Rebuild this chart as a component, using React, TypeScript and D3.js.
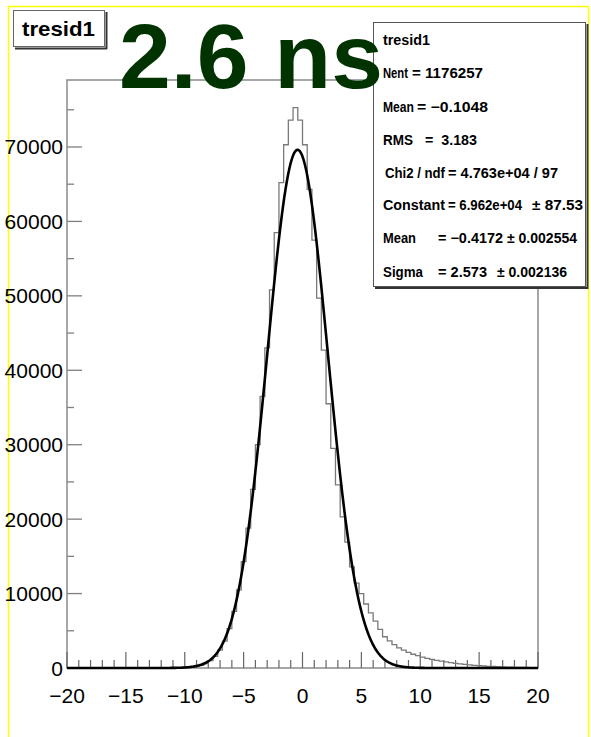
import React from "react";
import * as d3 from "d3";

// ---- data ----
const binLow = -20;
const binHigh = 20;
const binCounts = [
  2, 2, 3, 3, 4, 4, 5, 6, 6, 7,
  8, 9, 10, 11, 12, 13, 14, 15, 16, 18,
  19, 21, 24, 30, 45, 75, 125, 210, 360, 600,
  980, 1550, 2400, 3600, 5300, 7600, 10500, 14300, 18800, 24000,
  30000, 36500, 43000, 50800, 58500, 65200, 70300, 73600, 75300, 73600,
  70300, 64300, 57500, 49700, 42700, 35500, 29500, 24600, 20300, 16900,
  13600, 11400, 10000, 8600, 7400, 6300, 5200, 4200, 3650, 3150,
  2700, 2400, 2100, 1850, 1650, 1450, 1300, 1150, 1020, 920,
  820, 720, 630, 550, 480, 420, 360, 310, 270, 230,
  200, 170, 150, 130, 110, 95, 80, 70, 60, 50,
];
// Gaussian fit parameters (from the stats box)
const fitConstant = 69620;
const fitMean = -0.4172;
const fitSigma = 2.573;

const yTickValues = [0, 10000, 20000, 30000, 40000, 50000, 60000, 70000];
const yMinorValues = [5000, 15000, 25000, 35000, 45000, 55000, 65000, 75000];
const xTickValues = [-20, -15, -10, -5, 0, 5, 10, 15, 20];
const xTickLabels = ["\u221220", "\u221215", "\u221210", "\u22125", "0", "5", "10", "15", "20"];
const yMax = 79000;

const titleText = "tresid1";
const bigText = "2.6 ns";
const statsLabels = ["tresid1", "Nent", "Mean", "RMS", "Chi2 / ndf", "Constant", "Mean", "Sigma"];
const statsValues = ["", "= 1176257", "= \u22120.1048", "=  3.183", "= 4.763e+04 / 97", "= 6.962e+04", "= \u22120.4172", "= 2.573"];
const statsErrors = ["", "", "", "", "", "\u00b1 87.53", "\u00b1 0.002554", "\u00b1 0.002136"];

// ---- layout ----
const W = 591;
const H = 737;
const L = 67, R = 538, T = 80, B = 668;
const FONT = "'Liberation Sans', Arial, Helvetica, sans-serif";
const statsY = [40, 73, 107, 140, 173, 205, 238, 272];
const statsLabX = [383, 383, 383, 383, 385, 383, 383, 383];
const statsLabW = [47, 25, 31, 30, 60, 62, 33, 40];
const statsValX = [0, 412, 417, 425, 448, 448, 438, 438];
const statsValW = [0, 71, 71, 52, 110, 74, 65, 49];
const statsErrX = [0, 0, 0, 0, 0, 532, 507, 497];
const statsErrW = [0, 0, 0, 0, 0, 51, 70, 70];

export default function App() {
  const x = d3.scaleLinear().domain([binLow, binHigh]).range([L, R]);
  const y = d3.scaleLinear().domain([0, yMax]).range([B, T]);
  const nb = binCounts.length;
  const bw = (binHigh - binLow) / nb;

  const pts: [number, number][] = [[binLow, 0]];
  binCounts.forEach((c, i) => pts.push([binLow + i * bw, c]));
  pts.push([binHigh, binCounts[nb - 1]]);
  pts.push([binHigh, 0]);
  const histPath = d3
    .line<[number, number]>()
    .x((d) => x(d[0]))
    .y((d) => y(d[1]))
    .curve(d3.curveStepAfter)(pts) as string;

  const fx = d3.range(binLow, binHigh + 0.0001, 0.05);
  const fitPath = d3
    .line<number>()
    .x((v) => x(v))
    .y((v) => y(fitConstant * Math.exp(-0.5 * Math.pow((v - fitMean) / fitSigma, 2))))
    .curve(d3.curveLinear)(fx) as string;

  const xMinor = d3.range(binLow, binHigh + 0.001, 1).filter((v) => Math.abs(v % 5) > 0.001);

  return (
    <svg
      width={W}
      height={H}
      style={{ position: "absolute", left: 0, top: 0, background: "#fff" }}
    >
      <rect x={0} y={0} width={W} height={H} fill="#fff" />
      {/* yellow canvas border */}
      <rect x={8.5} y={6.5} width={580} height={800} fill="none" stroke="#ffff00" strokeWidth={1.5} />

      {/* frame */}
      <rect x={L} y={T} width={R - L} height={B - T} fill="none" stroke="#8a8a8a" strokeWidth={1.5} />

      {/* y ticks */}
      {yTickValues.map((v) => (
        <line key={"ym" + v} x1={L} x2={L + 15} y1={y(v)} y2={y(v)} stroke="#808080" strokeWidth={1.3} />
      ))}
      {yMinorValues.map((v) => (
        <line key={"yn" + v} x1={L} x2={L + 7} y1={y(v)} y2={y(v)} stroke="#808080" strokeWidth={1.3} />
      ))}
      {/* x ticks */}
      {xTickValues.map((v) => (
        <line key={"xm" + v} x1={x(v)} x2={x(v)} y1={B} y2={B - 16} stroke="#666" strokeWidth={1.2} />
      ))}
      {xMinor.map((v) => (
        <line key={"xn" + v} x1={x(v)} x2={x(v)} y1={B} y2={B - 8} stroke="#666" strokeWidth={1.2} />
      ))}

      {/* histogram */}
      <path d={histPath} fill="none" stroke="#7a7a7a" strokeWidth={1.3} />
      {/* fit */}
      <path d={fitPath} fill="none" stroke="#000" strokeWidth={2.6} strokeLinejoin="round" />

      {/* axis labels */}
      {yTickValues.map((v) => (
        <text
          key={"yl" + v}
          x={L - 4}
          y={y(v)}
          textAnchor="end"
          dominantBaseline="central"
          fontFamily={FONT}
          fontSize={21}
          fill="#000"
        >
          {v}
        </text>
      ))}
      {xTickValues.map((v, i) => (
        <text
          key={"xl" + v}
          x={x(v)}
          y={703}
          textAnchor="middle"
          fontFamily={FONT}
          fontSize={21}
          fill="#000"
        >
          {xTickLabels[i]}
        </text>
      ))}

      {/* title box */}
      <line x1={15} y1={48.5} x2={107} y2={48.5} stroke="#333" strokeWidth={2} />
      <line x1={106.5} y1={12} x2={106.5} y2={49} stroke="#333" strokeWidth={2} />
      <rect x={13.5} y={10.5} width={91} height={36} fill="#fff" stroke="#666" strokeWidth={1} />
      <text x={22} y={36} fontFamily={FONT} fontSize={21} fontWeight="bold" fill="#000"
        textLength={73} lengthAdjust="spacingAndGlyphs">
        {titleText}
      </text>

      {/* stats box */}
      <line x1={375} y1={288} x2={588} y2={288} stroke="#333" strokeWidth={2} />
      <line x1={587.5} y1={24} x2={587.5} y2={289} stroke="#333" strokeWidth={2} />
      <rect x={373.5} y={22.5} width={212} height={264} fill="#fff" stroke="#555" strokeWidth={1} />

      {/* big label */}
      <text x={119} y={88} fontFamily={FONT} fontSize={91} fontWeight="bold" fill="#003300"
        textLength={264} lengthAdjust="spacingAndGlyphs">
        {bigText}
      </text>

      {/* stats text */}
      {statsLabels.map((lab, i) => (
        <g key={"st" + i} fontFamily={FONT} fontSize={14} fontWeight="bold" fill="#000">
          <text x={statsLabX[i]} y={statsY[i]} dominantBaseline="central"
            textLength={statsLabW[i]} lengthAdjust="spacingAndGlyphs">
            {lab}
          </text>
          {statsValues[i] && (
            <text x={statsValX[i]} y={statsY[i]} dominantBaseline="central" style={{ whiteSpace: "pre" }}
              textLength={statsValW[i]} lengthAdjust="spacingAndGlyphs">
              {statsValues[i]}
            </text>
          )}
          {statsErrors[i] && (
            <text x={statsErrX[i]} y={statsY[i]} dominantBaseline="central"
              textLength={statsErrW[i]} lengthAdjust="spacingAndGlyphs">
              {statsErrors[i]}
            </text>
          )}
        </g>
      ))}
    </svg>
  );
}
